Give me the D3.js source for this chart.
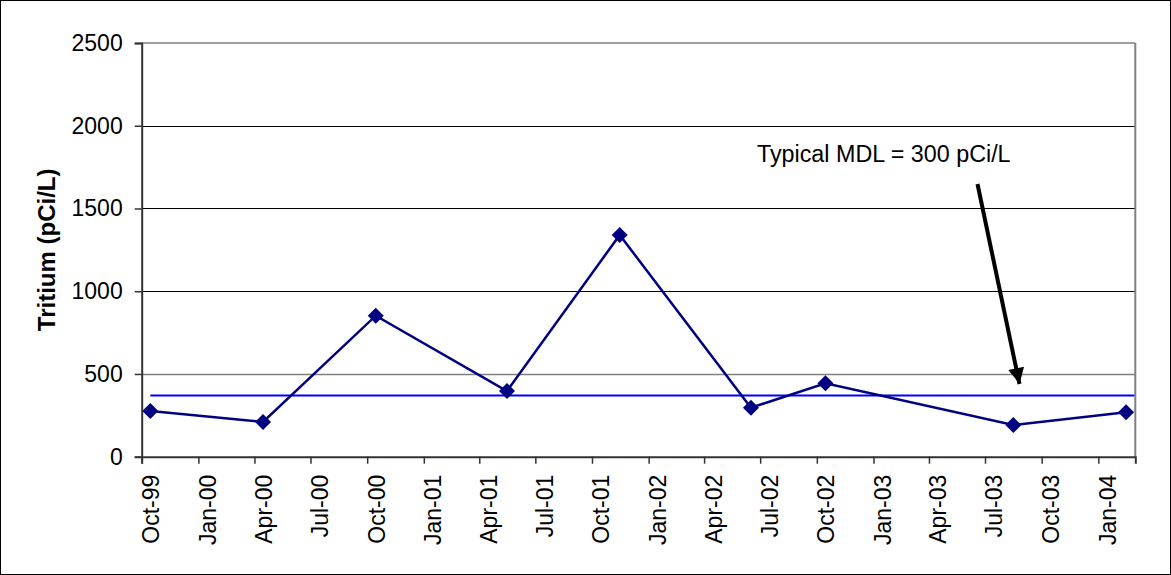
<!DOCTYPE html>
<html>
<head>
<meta charset="utf-8">
<script src="https://cdn.jsdelivr.net/npm/d3@7/dist/d3.min.js"></script>
<style>
  html, body { margin: 0; padding: 0; background: #fff; }
  svg { display: block; }
  text { font-family: "Liberation Sans", Arial, sans-serif; fill: #000; }
</style>
</head>
<body>
<svg id="chart" width="1171" height="575"></svg>
<script>
// ---- data ----
const sampleDates = ["1999-10-15", "2000-04-15", "2000-10-15", "2001-05-16", "2001-11-15",
                     "2002-06-16", "2002-10-15", "2003-08-16", "2004-02-15"];
const tritiumValues = [276, 210, 852, 397, 1340, 296, 444, 191, 268];
const mdlLineValue = 370;
const yTickValues = [0, 500, 1000, 1500, 2000, 2500];
const xTickLabels = ["Oct-99", "Jan-00", "Apr-00", "Jul-00", "Oct-00", "Jan-01", "Apr-01", "Jul-01",
                     "Oct-01", "Jan-02", "Apr-02", "Jul-02", "Oct-02", "Jan-03", "Apr-03", "Jul-03",
                     "Oct-03", "Jan-04"];
const yAxisTitle = "Tritium (pCi/L)";
const annotationText = "Typical MDL = 300 pCi/L";

(function () {
// ---- layout ----
const svg = d3.select("#chart");
const pL = 141.7, pR = 1135.3, pT = 43, pB = 456.7;
const parse = d3.utcParse("%Y-%m-%d");

const x = d3.scaleUtc()
  .domain([Date.UTC(1999, 9, 1), Date.UTC(2004, 2, 1)])
  .range([pL, pR]);
const y = d3.scaleLinear().domain([0, 2500]).range([pB, pT]);

// outer border
svg.append("rect").attr("x", 0.5).attr("y", 0.5).attr("width", 1170).attr("height", 574)
  .attr("fill", "#fff").attr("stroke", "#000").attr("stroke-width", 1);

// gridlines
svg.append("g").selectAll("line")
  .data(yTickValues.filter(v => v > 0 && v < 2500))
  .join("line")
  .attr("x1", pL).attr("x2", pR)
  .attr("y1", d => Math.round(y(d)) + 0.5).attr("y2", d => Math.round(y(d)) + 0.5)
  .attr("stroke", d => d === 500 ? "#808080" : "#000")
  .attr("stroke-width", d => d === 500 ? 1.5 : 1);

// plot frame top/right (gray)
svg.append("line").attr("x1", pL).attr("x2", pR).attr("y1", y(2500)).attr("y2", y(2500))
  .attr("stroke", "#808080").attr("stroke-width", 1.5);
svg.append("line").attr("x1", pR).attr("x2", pR).attr("y1", pT).attr("y2", pB)
  .attr("stroke", "#808080").attr("stroke-width", 2);

// x axis
const tickDates = xTickLabels.map((_, i) => d3.utcMonth.offset(new Date(Date.UTC(1999, 9, 1)), i * 3));
const xAxis = d3.axisBottom(x).tickValues(tickDates).tickSize(7).tickFormat((d, i) => xTickLabels[i]);
const gx = svg.append("g").attr("transform", `translate(0,${pB})`).call(xAxis);
gx.select(".domain").attr("stroke", "#333").attr("stroke-width", 2);
gx.selectAll(".tick line").attr("stroke", "#333").attr("stroke-width", 1.5);
gx.selectAll(".tick text")
  .attr("font-size", 23)
  .attr("font-family", "'Liberation Sans', Arial, sans-serif")
  .attr("fill", "#000")
  .attr("text-anchor", "end")
  .attr("dy", null)
  .attr("y", 0)
  .attr("transform", "translate(17,18) rotate(-90)");

// y axis
const yAxis = d3.axisLeft(y).tickValues(yTickValues).tickSize(7).tickPadding(12).tickFormat(d3.format("d"));
const gy = svg.append("g").attr("transform", `translate(${pL},0)`).call(yAxis);
gy.select(".domain").attr("stroke", "#333").attr("stroke-width", 2);
gy.selectAll(".tick line").attr("stroke", "#333").attr("stroke-width", 1.5);
gy.selectAll(".tick text")
  .attr("font-size", 23)
  .attr("font-family", "'Liberation Sans', Arial, sans-serif")
  .attr("fill", "#000");

// y title
svg.append("text")
  .attr("transform", `translate(55,${(pT + pB) / 2}) rotate(-90)`)
  .attr("text-anchor", "middle")
  .attr("font-size", 24)
  .attr("font-weight", "bold")
  .text(yAxisTitle);

// MDL reference line
const data = sampleDates.map((d, i) => ({ date: parse(d), value: tritiumValues[i] }));
svg.append("line")
  .attr("x1", x(data[0].date)).attr("x2", pR - 1)
  .attr("y1", y(mdlLineValue)).attr("y2", y(mdlLineValue))
  .attr("stroke", "#0000ff").attr("stroke-width", 2);

// series line
svg.append("path")
  .datum(data)
  .attr("fill", "none")
  .attr("stroke", "#000080")
  .attr("stroke-width", 2.5)
  .attr("d", d3.line().x(d => x(d.date)).y(d => y(d.value)));

// markers
svg.append("g").selectAll("path")
  .data(data)
  .join("path")
  .attr("transform", d => `translate(${x(d.date)},${y(d.value)})`)
  .attr("d", "M0,-8L8,0L0,8L-8,0Z")
  .attr("fill", "#000080");

// annotation
svg.append("text")
  .attr("x", 757).attr("y", 162)
  .attr("font-size", 23.3)
  .text(annotationText);

// arrow
const defs = svg.append("defs");
defs.append("marker")
  .attr("id", "arrowhead")
  .attr("viewBox", "0 0 10 10")
  .attr("refX", 10).attr("refY", 5)
  .attr("markerWidth", 4.5).attr("markerHeight", 4)
  .attr("markerUnits", "strokeWidth")
  .attr("orient", "auto")
  .append("path").attr("d", "M0,0L10,5L0,10Z").attr("fill", "#000");
svg.append("line")
  .attr("x1", 977.5).attr("y1", 184)
  .attr("x2", 1019.5).attr("y2", 384)
  .attr("stroke", "#000").attr("stroke-width", 4)
  .attr("marker-end", "url(#arrowhead)");
})();
</script>
</body>
</html>
